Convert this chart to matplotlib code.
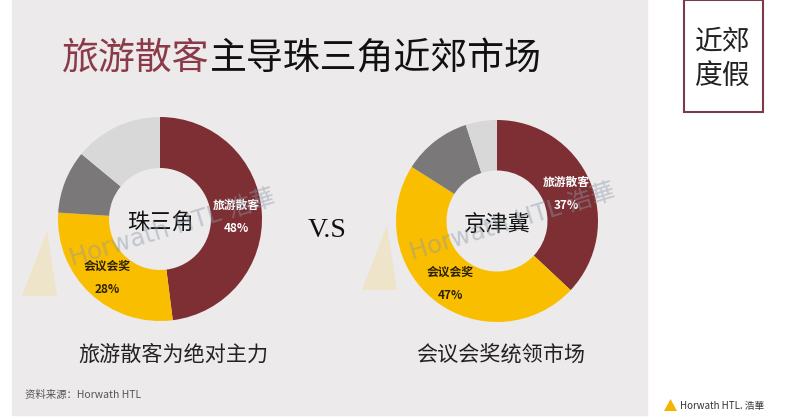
import numpy as np
import matplotlib
matplotlib.use('Agg')
from matplotlib import pyplot as plt
from matplotlib.patches import Rectangle, Polygon

plt.rcParams['font.family'] = ['Noto Sans CJK SC', 'DejaVu Sans']

segments = ['旅游散客', '会议会奖', '其他一', '其他二']
prd_values = [48, 28, 10, 14]      # 珠三角
jjj_values = [37, 47, 11, 5]       # 京津冀
colors = ['#7D2F34', '#F9BE00', '#7A7878', '#D9D8D8']
label_colors = ['white', '#2A2000']

title_red = '旅游散客'
title_rest = '主导珠三角近郊市场'
regions = ['珠三角', '京津冀']
captions = ['旅游散客为绝对主力', '会议会奖统领市场']

W, H = 800, 420
fig = plt.figure(figsize=(8, 4.2), dpi=100)
fig.patch.set_facecolor('white')


def fx(x):
    return x / W


def fy(y):
    return 1 - y / H


# slide background
fig.patches.append(Rectangle((fx(12), fy(415)), fx(647) - fx(12), fy(0) - fy(415),
                             transform=fig.transFigure, color='#ECEAEB', zorder=-2))

# top-right box
fig.patches.append(Rectangle((fx(684), fy(112)), fx(763) - fx(684), fy(0) - fy(112),
                             transform=fig.transFigure, facecolor='white',
                             edgecolor='#7A3B4B', lw=1.5, zorder=-1))
fig.text(fx(723), fy(59), '近郊\n度假', ha='center', va='center', fontsize=20,
         linespacing=1.15, color='#222222', fontweight='light')

# title
t1 = fig.text(fx(62), fy(69), title_red, ha='left', va='baseline', fontsize=26.6,
              color='#8B3A48', fontweight='light')
fig.canvas.draw()
bb = t1.get_window_extent()
fig.text(bb.x1 / W, fy(69), title_rest, ha='left', va='baseline', fontsize=26.6,
         color='#111111', fontweight='light')


def donut(center, r, values, region):
    cx, cy = center
    ax = fig.add_axes([fx(cx - r), fy(cy + r), 2 * r / W, 2 * r / H])
    wedges, _ = ax.pie(values, colors=colors, startangle=90, counterclock=False,
                       radius=1, wedgeprops=dict(width=0.5, linewidth=0))
    ax.set_xlim(-1, 1)
    ax.set_ylim(-1, 1)
    ax.axis('off')
    for i in range(2):
        w = wedges[i]
        mid = np.deg2rad((w.theta1 + w.theta2) / 2)
        x, y = 0.75 * np.cos(mid), 0.75 * np.sin(mid) - 0.03
        ax.text(x, y, f'{segments[i]}\n{values[i]}%', ha='center', va='center',
                fontsize=8.5, fontweight='bold', color=label_colors[i],
                linespacing=2.0)
    ax.text(0, -0.03, region, ha='center', va='center', fontsize=16,
            color='#111111', fontweight='light')
    return ax


donut((160, 219), 102, prd_values, regions[0])
donut((497, 221), 101, jjj_values, regions[1])

fig.text(fx(327), fy(230), 'V.S', ha='center', va='center', fontsize=20,
         family='Liberation Serif', color='#111111')

fig.text(fx(173), fy(355), captions[0], ha='center', va='center', fontsize=15.2,
         color='#222222', fontweight='light')
fig.text(fx(501), fy(355), captions[1], ha='center', va='center', fontsize=15.2,
         color='#222222', fontweight='light')

# watermarks
for x0, y0 in [(72, 266), (412, 260)]:
    fig.text(fx(x0), fy(y0), 'Horwath HTL 浩華', ha='left', va='baseline',
             rotation=17, rotation_mode='anchor', fontsize=17.5,
             color='#8C98A8', alpha=0.45, family=['DejaVu Sans', 'Noto Sans CJK SC'],
             zorder=5)
    fig.patches.append(Polygon([(fx(x0 - 50), fy(y0 + 30)), (fx(x0 - 25), fy(y0 - 35)),
                                (fx(x0 - 15), fy(y0 + 30))], closed=True,
                               transform=fig.transFigure, color='#F3D98A', alpha=0.35,
                               lw=0, zorder=1))

# source and logo
fig.text(fx(25), fy(395), '资料来源：Horwath HTL', ha='left', va='center', fontsize=7.5,
         color='#555555', style='italic')
fig.patches.append(Polygon([(fx(664), fy(411)), (fx(670.5), fy(399)), (fx(677), fy(411))],
                           closed=True, transform=fig.transFigure, color='#F5B400', lw=0))
fig.text(fx(680), fy(406), 'Horwath HTL. 浩華', ha='left', va='center', fontsize=7,
         color='#333333')

fig.savefig('out.png', dpi=100, facecolor='white')
